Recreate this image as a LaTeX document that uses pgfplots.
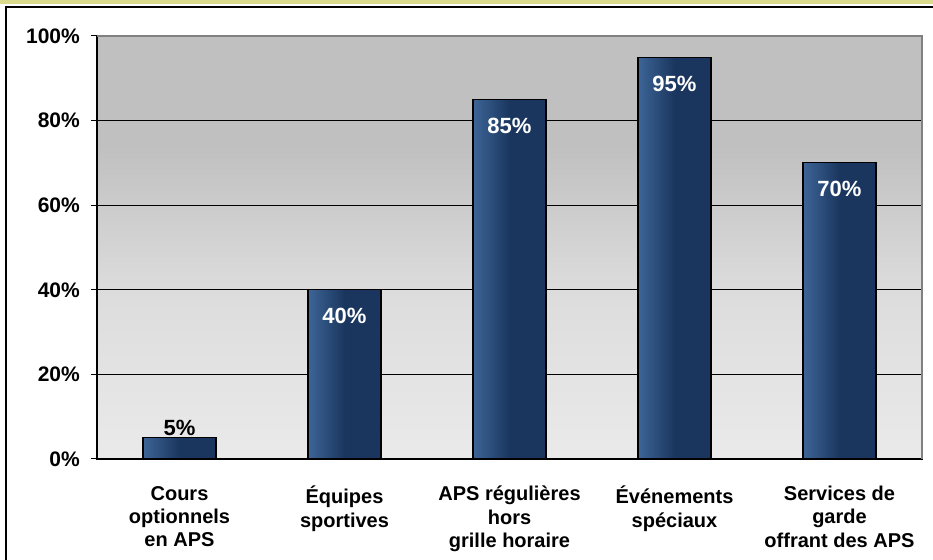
\documentclass[border=0pt]{standalone}
\usepackage{pgfplots}
\pgfplotsset{compat=1.18}
\usepackage{fontspec}
\setmainfont{Liberation Sans}
\definecolor{barL}{HTML}{3D6597}
\definecolor{barD}{HTML}{1A365E}
\definecolor{bgT}{HTML}{C0C0C0}
\definecolor{bgM}{HTML}{DCDCDC}
\definecolor{bgB}{HTML}{EAEAEA}
\definecolor{bgB2}{HTML}{E3E3E3}
\definecolor{band}{HTML}{DADA8C}
\pgfdeclarehorizontalshading{barshade}{100bp}{color(0bp)=(barL); color(25bp)=(barL); color(50bp)=(barD); color(75bp)=(barD); color(100bp)=(barD)}
\pgfdeclareverticalshading{bgshade}{100bp}{color(0bp)=(bgB); color(25bp)=(bgB); color(35bp)=(bgB2); color(45bp)=(bgM); color(62bp)=(bgT); color(100bp)=(bgT)}
\pgfplotsset{
  mybar/.style={bar shift=0pt, draw=black, line width=1.2pt, shade, shading=barshade,
    nodes near coords={\pgfmathprintnumber[assume math mode=true]{\pgfplotspointmeta}\%}},
  inlabel/.style={every node near coord/.style={anchor=north, inner sep=0pt, yshift=-18pt, text=white, font=\bfseries\fontsize{22}{24}\selectfont}},
  outlabel/.style={every node near coord/.style={anchor=south, inner sep=0pt, yshift=2pt, text=black, font=\bfseries\fontsize{22}{24}\selectfont}},
}
\begin{document}
\begin{tikzpicture}
\useasboundingbox (0,0) rectangle (933pt,559pt);
\fill[band] (0,555pt) rectangle (933pt,559pt);
\draw[black, line width=1.4pt] (933pt,552pt) -- (6pt,552pt) -- (6pt,-1pt);
\begin{axis}[
  at={(97pt,100pt)}, anchor=south west,
  scale only axis, width=825pt, height=423pt,
  xmin=-0.5, xmax=4.5, ymin=0, ymax=100,
  enlargelimits=false,
  ybar,
  bar width=73pt,
  axis background/.style={shade, shading=bgshade},
  axis line style={black, line width=1.2pt},
  tick pos=left, tick align=outside,
  ytick={0,20,40,60,80,100},
  yticklabels={0\%,20\%,40\%,60\%,80\%,100\%},
  yticklabel style={inner sep=0pt, font=\bfseries\fontsize{21}{23}\selectfont, xshift=-11pt},
  ymajorgrids, grid style={black, line width=0.8pt},
  major tick style={black, line width=1pt},
  major tick length=6pt,
  xtick={0,1,2,3,4},
  xticklabels={Cours\\optionnels\\en APS, Équipes\\sportives, APS régulières\\hors\\grille horaire, Événements\\spéciaux, Services de\\garde\\offrant des APS},
  xticklabel style={align=center, inner sep=0pt, anchor=north, yshift=-21pt,
    execute at begin node={\rule{0pt}{20pt}},
    font=\bfseries\fontsize{20}{23.3}\selectfont},
  x tick style={draw=none},
  minor xtick={-0.5,0.5,...,4.5},
  minor x tick style={black, line width=1pt},
  minor tick length=6pt,
]
\addplot[mybar, outlabel] coordinates {(0,5)};
\addplot[mybar, inlabel] coordinates {(1,40)};
\addplot[mybar, inlabel] coordinates {(2,85)};
\addplot[mybar, inlabel] coordinates {(3,95)};
\addplot[mybar, inlabel] coordinates {(4,70)};
\end{axis}
\draw[gray, line width=1.6pt] (97pt,523pt) -- (922pt,523pt) -- (922pt,100pt);
\end{tikzpicture}
\end{document}
